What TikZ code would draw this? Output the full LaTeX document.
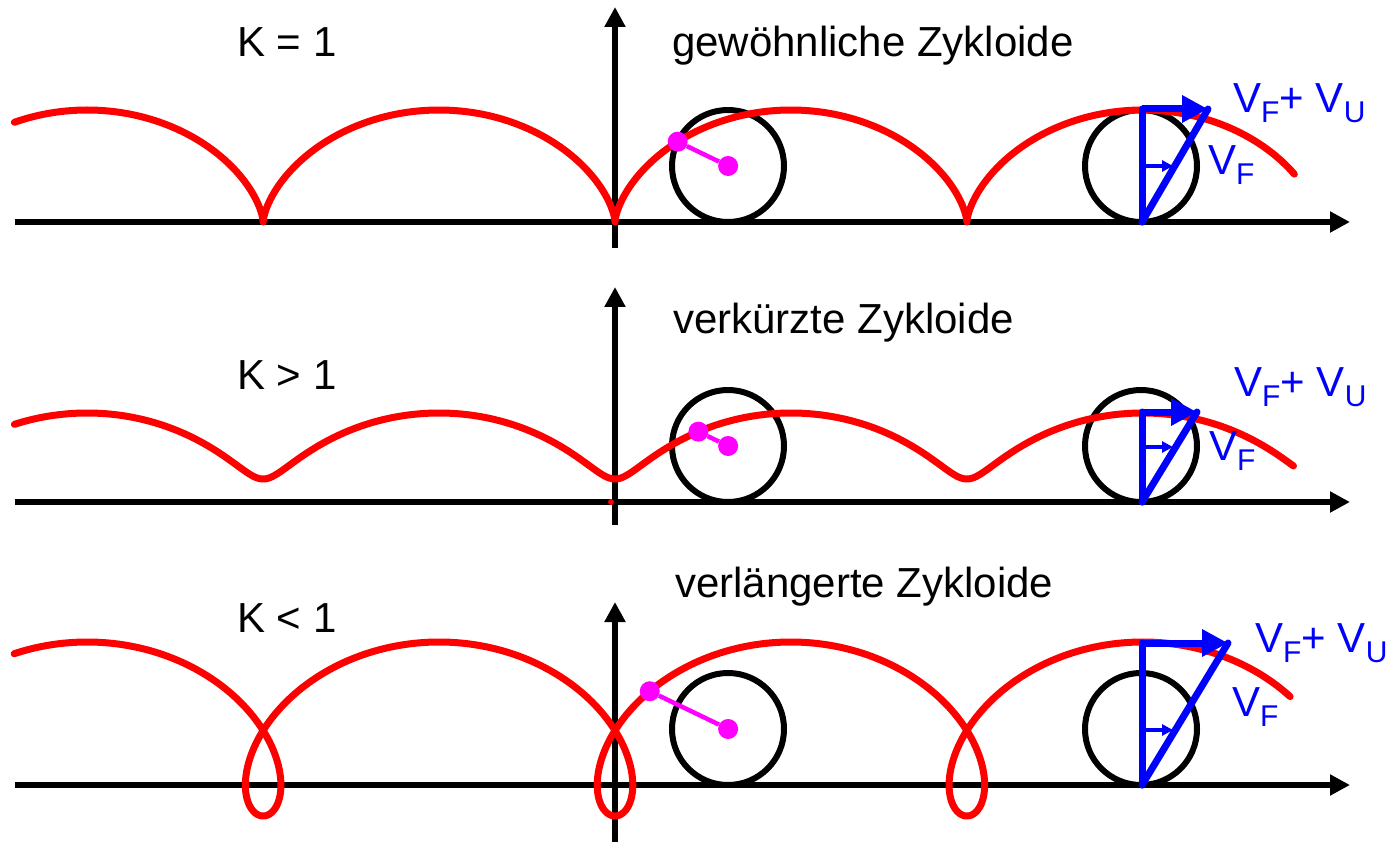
\documentclass[tikz,border=0pt]{standalone}
\usepackage{fontspec}
\setmainfont{Liberation Sans}
\usetikzlibrary{arrows.meta}
\definecolor{mag}{RGB}{255,0,255}
\definecolor{pred}{RGB}{255,0,0}
\definecolor{pblue}{RGB}{0,0,255}
\newcommand\subt[1]{\raisebox{-10pt}{\fontsize{30}{30}\selectfont #1}}
\begin{document}
\begin{tikzpicture}[x=1pt,y=-1pt,
  axisline/.style={line width=6.5pt,-{Triangle[length=20pt,width=20pt]}},
  curve/.style={pred,line width=7pt,line join=round,line cap=round},
  wheel/.style={line width=6pt},
  rod/.style={mag,line width=4.5pt},
  dotm/.style={circle,fill=mag,inner sep=0pt,minimum size=20pt},
  vec/.style={pblue,line width=7pt,line cap=round},
  bigarrow/.style={pblue,line width=7pt,-{Triangle[length=26pt,width=26pt]}},
  smallarrow/.style={pblue,line width=3.5pt,-{Triangle[length=11pt,width=11pt]}},
  lbl/.style={font=\fontsize{42}{48}\selectfont,inner sep=0pt,anchor=base west},
  blbl/.style={lbl,text=pblue}]
\useasboundingbox (0,0) rectangle (1390,842);

% ---------------- panel 1 ----------------
\coordinate (h1s) at (15,222); \coordinate (h1e) at (1350,222);
\coordinate (v1s) at (615,248); \coordinate (v1e) at (615,7);
\draw[axisline] (h1s) -- (h1e);
\draw[axisline] (v1s) -- (v1e);
\node[wheel,draw,circle,minimum size=112pt,inner sep=0pt] (w1a) at (728,166) {};
\node[wheel,draw,circle,minimum size=112pt,inner sep=0pt] (w1b) at (1141,166) {};
\draw[curve] plot[domain=-10.1:11.15,samples=600,variable=\t]
  ({615+56*\t-56*sin(\t r)},{166+56*cos(\t r)});
\node[dotm] (p1) at ({615+56*2.02-56*sin(2.02 r)},{166+56*cos(2.02 r)}) {};
\node[dotm] (c1) at ({615+56*2.02},166) {};
\draw[rod] (p1) -- (c1);
\coordinate (b1) at (1142,222); \coordinate (t1) at (1142,109);
\coordinate (k1) at (1208,109); \coordinate (m1) at (1142,166); \coordinate (n1) at (1173,166);
\draw[vec] (b1) -- (t1);
\draw[vec] (b1) -- (k1);
\draw[bigarrow] (t1) -- (k1);
\draw[smallarrow] (m1) -- (n1);
\node[lbl] (K1) at (237,57) {Κ = 1};
\node[lbl] (T1) at (672,57) {gewöhnliche Zykloide};
\node[blbl] (S1) at (1233,113) {V\subt{F}+ V\subt{U}};
\node[blbl] (F1) at (1208,175) {V\subt{F}};

% ---------------- panel 2 ----------------
\coordinate (h2s) at (15,502); \coordinate (h2e) at (1350,502);
\coordinate (v2s) at (615,525); \coordinate (v2e) at (615,287);
\draw[axisline] (h2s) -- (h2e);
\draw[axisline] (v2s) -- (v2e);
\node[wheel,draw,circle,minimum size=112pt,inner sep=0pt] (w2a) at (728,446) {};
\node[wheel,draw,circle,minimum size=112pt,inner sep=0pt] (w2b) at (1141,446) {};
\fill[pred] (611,502) circle (3pt);
\draw[curve] plot[domain=-10.28:11.65,samples=600,variable=\t]
  ({615+56*\t-33*sin(\t r)},{446+33*cos(\t r)});
\node[dotm] (p2) at ({615+56*2.02-33*sin(2.02 r)},{446+33*cos(2.02 r)}) {};
\node[dotm] (c2) at ({615+56*2.02},446) {};
\draw[rod] (p2) -- (c2);
\coordinate (b2) at (1142,502); \coordinate (t2) at (1142,412);
\coordinate (k2) at (1197,412); \coordinate (m2) at (1142,447); \coordinate (n2) at (1173,447);
\draw[vec] (b2) -- (t2);
\draw[vec] (b2) -- (k2);
\draw[bigarrow] (t2) -- (k2);
\draw[smallarrow] (m2) -- (n2);
\node[lbl] (K2) at (237,389) {Κ > 1};
\node[lbl] (T2) at (673,334) {verkürzte Zykloide};
\node[blbl] (S2) at (1234,396) {V\subt{F}+ V\subt{U}};
\node[blbl] (F2) at (1209,460) {V\subt{F}};

% ---------------- panel 3 ----------------
\coordinate (h3s) at (15,785); \coordinate (h3e) at (1350,785);
\coordinate (v3s) at (615,842); \coordinate (v3e) at (615,602);
\draw[axisline] (h3s) -- (h3e);
\draw[axisline] (v3s) -- (v3e);
\node[wheel,draw,circle,minimum size=112pt,inner sep=0pt] (w3a) at (728,729) {};
\node[wheel,draw,circle,minimum size=112pt,inner sep=0pt] (w3b) at (1141,729) {};
\draw[curve] plot[domain=-9.95:10.62,samples=700,variable=\t]
  ({615+56*\t-87*sin(\t r)},{729+87*cos(\t r)});
\node[dotm] (p3) at ({615+56*2.02-87*sin(2.02 r)},{729+87*cos(2.02 r)}) {};
\node[dotm] (c3) at ({615+56*2.02},729) {};
\draw[rod] (p3) -- (c3);
\coordinate (b3) at (1142,785); \coordinate (t3) at (1142,643);
\coordinate (k3) at (1228,643); \coordinate (m3) at (1142,730); \coordinate (n3) at (1173,730);
\draw[vec] (b3) -- (t3);
\draw[vec] (b3) -- (k3);
\draw[bigarrow] (t3) -- (k3);
\draw[smallarrow] (m3) -- (n3);
\node[lbl] (K3) at (237,632) {Κ < 1};
\node[lbl] (T3) at (675,597) {verlängerte Zykloide};
\node[blbl] (S3) at (1255,652) {V\subt{F}+ V\subt{U}};
\node[blbl] (F3) at (1232,716) {V\subt{F}};
\end{tikzpicture}
\end{document}
